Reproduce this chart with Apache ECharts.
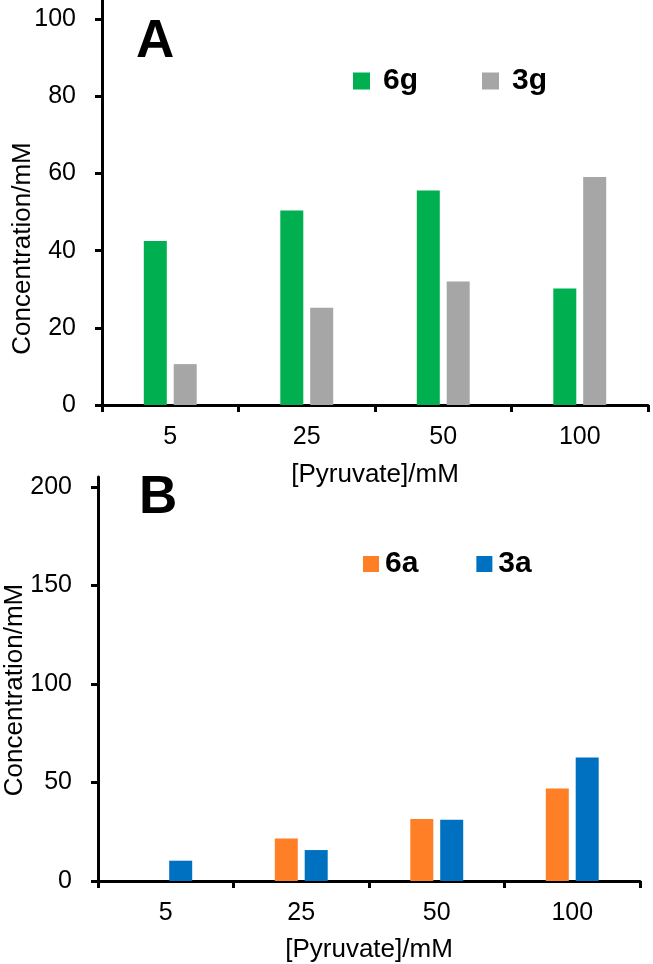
<!DOCTYPE html>
<html>
<head>
<meta charset="utf-8">
<script src="https://cdn.jsdelivr.net/npm/echarts@6/dist/echarts.min.js"></script>
<style>
html,body{margin:0;padding:0;background:#fff;}
#chart{width:653px;height:964px;}
</style>
</head>
<body>
<div id="chart"></div>
<script>
// ---- data ----
const categories = ['5', '25', '50', '100'];
const seriesA_6g = [42.5, 50.4, 55.6, 30.2];
const seriesA_3g = [10.6, 25.2, 32.0, 59.1];
const seriesB_6a = [0, 21.6, 31.4, 47.0];
const seriesB_3a = [10.3, 15.7, 31.1, 62.7];
const ticksA = [0, 20, 40, 60, 80, 100];
const ticksB = [0, 50, 100, 150, 200];
const xTitle = '[Pyruvate]/mM';
const yTitle = 'Concentration/mM';

const FONT = "'Liberation Sans', Arial, sans-serif";
const black = '#000';

function xAxisCfg(gridIndex, nameGap) {
  return {
    type: 'category', gridIndex: gridIndex, data: categories,
    name: xTitle, nameLocation: 'middle', nameGap: nameGap, nameMoveOverlap: false,
    nameTextStyle: {fontFamily: FONT, fontSize: 26, color: black},
    axisLine: {lineStyle: {color: black, width: 3}},
    axisTick: {show: true, length: 7, lineStyle: {color: black, width: 3}},
    axisLabel: {fontFamily: FONT, fontSize: 25, color: black, margin: 20, interval: 0},
    splitLine: {show: false}
  };
}
function yAxisCfg(gridIndex, max, ticks, nameGap, pad) {
  return {
    type: 'value', gridIndex: gridIndex, min: 0, max: max,
    name: yTitle, nameLocation: 'middle', nameGap: nameGap, nameRotate: 90, nameMoveOverlap: false,
    nameTextStyle: {fontFamily: FONT, fontSize: 26, color: black, padding: [0, pad, 0, 0]},
    axisLine: {show: true, lineStyle: {color: black, width: 3}},
    axisTick: {show: true, length: 7, customValues: ticks, lineStyle: {color: black, width: 3}},
    axisLabel: {fontFamily: FONT, fontSize: 25, color: black, margin: 26, customValues: ticks},
    splitLine: {show: false}
  };
}

const chart = echarts.init(document.getElementById('chart'), null, {renderer: 'canvas'});
chart.setOption({
  backgroundColor: '#fff',
  animation: false,
  title: [
    {text: 'A', left: 136, top: 16, padding: 0,
     textStyle: {fontFamily: FONT, fontSize: 53, fontWeight: 'bold', color: black}},
    {text: 'B', left: 139, top: 472, padding: 0,
     textStyle: {fontFamily: FONT, fontSize: 53, fontWeight: 'bold', color: black}}
  ],
  legend: [
    {data: ['6g', '3g'], left: 353, top: 66, padding: 0, itemGap: 64,
     itemWidth: 17, itemHeight: 17, icon: 'rect',
     textStyle: {fontFamily: FONT, fontSize: 30, fontWeight: 'bold', color: black, padding: [0, 0, 0, 8]}},
    {data: ['6a', '3a'], left: 363, top: 549, padding: 0, itemGap: 58,
     itemWidth: 16, itemHeight: 16, icon: 'rect',
     textStyle: {fontFamily: FONT, fontSize: 30, fontWeight: 'bold', color: black, padding: [0, 0, 0, 1]}}
  ],
  grid: [
    {left: 102, right: 5, top: 0, height: 405, containLabel: false, outerBoundsMode: 'none'},
    {left: 98, right: 13, top: 477, height: 404, containLabel: false, outerBoundsMode: 'none'}
  ],
  xAxis: [xAxisCfg(0, 57), xAxisCfg(1, 56)],
  yAxis: [yAxisCfg(0, 105, ticksA, 66, 92), yAxisCfg(1, 205, ticksB, 70, 22)],
  series: [
    {name: '6g', type: 'bar', xAxisIndex: 0, yAxisIndex: 0, data: seriesA_6g,
     barWidth: 23, barGap: '30%', itemStyle: {color: '#00B050'}},
    {name: '3g', type: 'bar', xAxisIndex: 0, yAxisIndex: 0, data: seriesA_3g,
     barWidth: 23, barGap: '30%', itemStyle: {color: '#A6A6A6'}},
    {name: '6a', type: 'bar', xAxisIndex: 1, yAxisIndex: 1, data: seriesB_6a,
     barWidth: 23, barGap: '30%', itemStyle: {color: '#FF7F27'}},
    {name: '3a', type: 'bar', xAxisIndex: 1, yAxisIndex: 1, data: seriesB_3a,
     barWidth: 23, barGap: '30%', itemStyle: {color: '#0070C0'}}
  ]
});
</script>
</body>
</html>
